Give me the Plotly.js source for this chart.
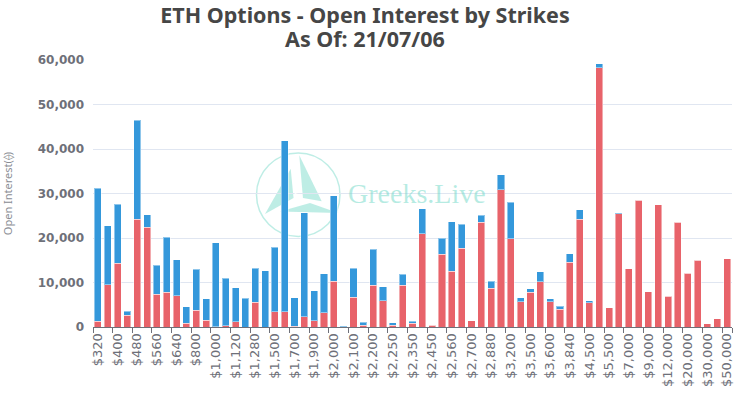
<!DOCTYPE html>
<html>
<head>
<meta charset="utf-8">
<script src="https://cdn.plot.ly/plotly-3.0.1.min.js"></script>
<style>
  html, body { margin: 0; padding: 0; background: #fff; }
  #chart { width: 743px; height: 408px; }
</style>
</head>
<body>
<div id="chart"></div>
<script>
// strike labels (only every other one is shown on the axis)
const strikes = ['$320','$360','$400','$440','$480','$520','$560','$600','$640','$720',
    '$800','$880','$1,000','$1,040','$1,120','$1,200','$1,280','$1,400','$1,500','$1,600',
    '$1,700','$1,800','$1,900','$1,950','$2,000','$2,050','$2,100','$2,150','$2,200','$2,240',
    '$2,250','$2,300','$2,350','$2,400','$2,450','$2,500','$2,560','$2,600','$2,700','$2,800',
    '$2,880','$3,000','$3,200','$3,400','$3,500','$3,520','$3,600','$3,800','$3,840','$4,000',
    '$4,500','$5,000','$5,500','$6,000','$7,000','$8,000','$9,000','$10,000','$12,000','$15,000',
    '$20,000','$25,000','$30,000','$40,000','$50,000'];

// open interest, calls (red, bottom of stack)
const callsOI = [1300, 9500, 14300, 2600, 24200, 22400, 7400, 7800, 7000, 900,
    3800, 1500, 100, 300, 1200, 0, 5600, 0, 3400, 3400,
    150, 2300, 1400, 3200, 10300, 0, 6700, 400, 9400, 5900,
    400, 9400, 900, 21000, 400, 16300, 12500, 17700, 1400, 23500,
    8700, 30800, 19800, 5700, 7800, 10200, 5700, 4000, 14500, 24200,
    5500, 58300, 4300, 25500, 13100, 28500, 7900, 27500, 6900, 23500,
    12100, 15000, 700, 1900, 15300];

// open interest, puts (blue, top of stack)
const putsOI = [29900, 13200, 13300, 900, 22300, 2800, 6500, 12400, 8100, 3600,
    9200, 4800, 18800, 10700, 7600, 6500, 7600, 12600, 14500, 38500,
    6450, 23400, 6700, 8800, 19200, 200, 6500, 700, 8100, 3200,
    600, 2500, 400, 5600, 100, 3700, 11200, 5400, 0, 1600,
    1600, 3400, 8200, 900, 800, 2200, 600, 700, 2000, 2100,
    400, 900, 0, 200, 0, 0, 0, 0, 0, 0,
    0, 0, 0, 0, 0];

const titleText = 'ETH Options - Open Interest by Strikes';
const subtitleText = 'As Of: 21/07/06';

const tickLabels = strikes.filter((s, i) => i % 2 === 0);

// plot area in pixels, used to place the title and the watermark
const W = 743, H = 408;
const L = 93, R = 732, T = 60, B = 327;
const px = x => (x - L) / (R - L);
const py = y => (B - y) / (B - T);
const tri = pts => 'M' + pts.map(p => px(p[0]).toFixed(4) + ',' + py(p[1]).toFixed(4)).join(' L') + ' Z';

const wmColor = 'rgba(110,215,198,0.45)';
const titleFont = { family: 'Noto Sans, sans-serif', size: 21.5, color: '#464646', weight: 'bold' };

const calls = {
    x: strikes,
    y: callsOI,
    type: 'bar',
    name: 'Calls',
    marker: { color: '#e8636a', line: { color: 'rgba(255,255,255,0.45)', width: 1 } },
    hovertemplate: '%{x}: %{y:,}<extra>Calls</extra>'
};

const puts = {
    x: strikes,
    y: putsOI,
    type: 'bar',
    name: 'Puts',
    marker: { color: '#3498db', line: { color: 'rgba(255,255,255,0.45)', width: 1 } },
    hovertemplate: '%{x}: %{y:,}<extra>Puts</extra>'
};

const layout = {
    width: W,
    height: H,
    barmode: 'stack',
    bargap: 0.28,
    showlegend: false,
    margin: { l: L, r: W - R, t: T, b: H - B },
    paper_bgcolor: '#fff',
    plot_bgcolor: '#fff',
    font: { family: 'Noto Sans, sans-serif', color: '#6e7079' },
    title: {
        text: titleText,
        x: 365 / W,
        xanchor: 'center',
        y: 1 - 15 / H,
        yanchor: 'middle',
        font: titleFont
    },
    xaxis: {
        type: 'category',
        tickmode: 'array',
        tickvals: tickLabels,
        ticktext: tickLabels,
        tickson: 'boundaries',
        tickangle: -90,
        ticks: 'outside',
        ticklen: 5,
        tickcolor: '#6e7079',
        showline: true,
        linecolor: '#6e7079',
        showgrid: false,
        tickfont: { family: 'DejaVu Sans, sans-serif', size: 13, color: '#6e7079' }
    },
    yaxis: {
        range: [0, 60000],
        tickvals: [0, 10000, 20000, 30000, 40000, 50000, 60000],
        tickformat: ',d',
        gridcolor: '#e0e6f1',
        zeroline: false,
        showline: false,
        ticks: '',
        ticklabelstandoff: 8,
        tickfont: { family: 'DejaVu Sans, sans-serif', size: 12, color: '#6e7079', weight: 'bold' },
        title: {
            text: 'Open Interest(⟠)',
            standoff: 26,
            font: { size: 11, color: '#8a8d94' }
        }
    },
    shapes: [
        { type: 'circle', xref: 'paper', yref: 'paper', layer: 'below',
          x0: px(256.5), x1: px(340), y0: py(236.5), y1: py(153),
          line: { color: wmColor, width: 1.5 } },
        { type: 'path', xref: 'paper', yref: 'paper', layer: 'below',
          path: tri([[290.7, 168.7], [265, 214], [293.5, 198]]),
          fillcolor: wmColor, line: { width: 0 } },
        { type: 'path', xref: 'paper', yref: 'paper', layer: 'below',
          path: tri([[299.3, 155.3], [321.7, 201.3], [303, 198]]),
          fillcolor: wmColor, line: { width: 0 } },
        { type: 'path', xref: 'paper', yref: 'paper', layer: 'below',
          path: tri([[280, 211.5], [338.3, 213], [310, 203]]),
          fillcolor: wmColor, line: { width: 0 } }
    ],
    annotations: [
        { xref: 'paper', yref: 'paper', x: (365 - L) / (R - L), y: py(38),
          xanchor: 'center', yanchor: 'middle', showarrow: false,
          text: subtitleText, font: titleFont },
        { xref: 'paper', yref: 'paper', x: px(346), y: py(193.5),
          xanchor: 'left', yanchor: 'middle', showarrow: false,
          text: 'Greeks.Live',
          font: { family: 'Liberation Serif, DejaVu Serif, serif', size: 28, color: 'rgba(110,215,198,0.5)' } },
        { xref: 'paper', yref: 'paper', x: px(297), y: py(191),
          xanchor: 'center', yanchor: 'middle', showarrow: false,
          text: 'e',
          font: { family: 'Liberation Serif, serif', size: 16, style: 'italic', color: 'rgba(255,255,255,0.9)' } }
    ]
};

Plotly.newPlot('chart', [calls, puts], layout, { displayModeBar: false, responsive: false });
</script>
</body>
</html>
